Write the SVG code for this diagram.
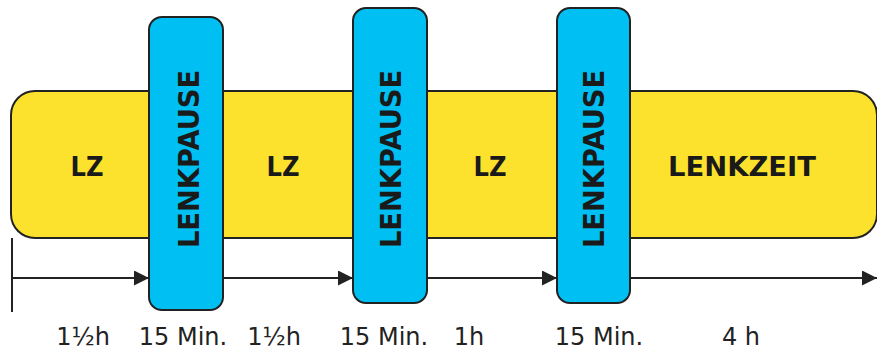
<svg xmlns="http://www.w3.org/2000/svg" width="877" height="352" viewBox="0 0 877 352">
<defs>
<style>
.bar{fill:#FCE22D;stroke:#222;stroke-width:2}
.pause{fill:#00BFF3;stroke:#222;stroke-width:2}
.bold{font-family:"DejaVu Sans",Verdana,sans-serif;font-weight:bold;fill:#1a1a1a}
.lbl{font-family:"DejaVu Sans",Verdana,sans-serif;font-size:24px;fill:#222;text-anchor:middle}
.ln{stroke:#222;stroke-width:2;fill:none}
</style>
<marker id="ah" markerWidth="15" markerHeight="15" viewBox="0 0 15 15" refX="15" refY="7.5" orient="auto" markerUnits="userSpaceOnUse">
<path d="M0,0 L15,7.5 L0,15 Z" fill="#222"/>
</marker>
</defs>
<g id="bar">
<rect class="bar" x="11" y="91" width="866" height="147" rx="24" ry="24"/>
<text class="bold" x="87" y="176" font-size="26" text-anchor="middle" textLength="33" lengthAdjust="spacingAndGlyphs">LZ</text>
<text class="bold" x="283" y="176" font-size="26" text-anchor="middle" textLength="33" lengthAdjust="spacingAndGlyphs">LZ</text>
<text class="bold" x="490" y="176" font-size="26" text-anchor="middle" textLength="33" lengthAdjust="spacingAndGlyphs">LZ</text>
<text class="bold" x="742" y="176" font-size="26" text-anchor="middle" textLength="148" lengthAdjust="spacingAndGlyphs">LENKZEIT</text>
</g>
<g id="connectors">
<line class="ln" x1="12" y1="238" x2="12" y2="312"/>
<line class="ln" x1="12" y1="278" x2="149" y2="278" marker-end="url(#ah)"/>
<line class="ln" x1="223" y1="278" x2="353" y2="278" marker-end="url(#ah)"/>
<line class="ln" x1="427" y1="278" x2="557" y2="278" marker-end="url(#ah)"/>
<line class="ln" x1="630" y1="278" x2="877" y2="278" marker-end="url(#ah)"/>
</g>
<g id="pause1">
<rect class="pause" x="149" y="17" width="74" height="293" rx="13" ry="13"/>
<text class="bold" font-size="28" text-anchor="middle" transform="translate(199,159) rotate(-90)" textLength="178" lengthAdjust="spacingAndGlyphs">LENKPAUSE</text>
</g>
<g id="pause2">
<rect class="pause" x="353" y="8" width="74" height="295" rx="13" ry="13"/>
<text class="bold" font-size="28" text-anchor="middle" transform="translate(401,159) rotate(-90)" textLength="178" lengthAdjust="spacingAndGlyphs">LENKPAUSE</text>
</g>
<g id="pause3">
<rect class="pause" x="557" y="8" width="73" height="295" rx="13" ry="13"/>
<text class="bold" font-size="28" text-anchor="middle" transform="translate(604,159) rotate(-90)" textLength="178" lengthAdjust="spacingAndGlyphs">LENKPAUSE</text>
</g>
<g id="labels">
<text class="lbl" x="83" y="345">1½h</text>
<text class="lbl" x="183" y="345">15 Min.</text>
<text class="lbl" x="274" y="345">1½h</text>
<text class="lbl" x="384" y="345">15 Min.</text>
<text class="lbl" x="469" y="345">1h</text>
<text class="lbl" x="599" y="345">15 Min.</text>
<text class="lbl" x="741" y="345">4 h</text>
</g>
</svg>
